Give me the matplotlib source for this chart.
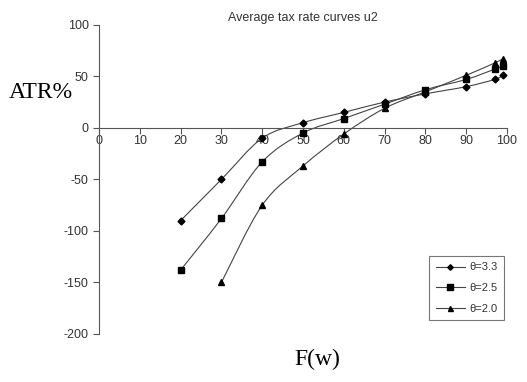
import matplotlib.pyplot as plt
import numpy as np
from matplotlib.path import Path
from matplotlib.patches import PathPatch
from matplotlib.lines import Line2D

# values
fw_33 = [20, 30, 40, 50, 60, 70, 80, 90, 97, 99]
atr_33 = [-90, -50, -10, 5, 15, 25, 33, 40, 47, 51]
fw_25 = [20, 30, 40, 50, 60, 70, 80, 90, 97, 99]
atr_25 = [-138, -88, -33, -5, 9, 23, 37, 47, 57, 60]
fw_20 = [30, 40, 50, 60, 70, 80, 90, 97, 99]
atr_20 = [-150, -75, -37, -6, 19, 35, 51, 63, 67]
labels = ['θ=3.3', 'θ=2.5', 'θ=2.0']
markers = ['D', 's', '^']
msizes = [3.5, 5, 4.5]

plt.rcParams['font.family'] = ['Liberation Sans', 'DejaVu Sans']
plt.rcParams['axes.unicode_minus'] = False


def smooth_path(x, y):
    # Excel style smoothed line: cubic bezier segments through the points
    p = np.column_stack([x, y]).astype(float)
    n = len(p)
    verts = [p[0]]
    codes = [Path.MOVETO]
    for i in range(n - 1):
        prev = p[i - 1] if i > 0 else p[i]
        nxt = p[i + 2] if i + 2 < n else p[i + 1]
        c1 = p[i] + (p[i + 1] - prev) / 6
        c2 = p[i + 1] - (nxt - p[i]) / 6
        verts += [c1, c2, p[i + 1]]
        codes += [Path.CURVE4] * 3
    return Path(verts, codes)


fig = plt.figure(figsize=(5.27, 3.82), dpi=100)
ax = fig.add_axes([0.188, 0.126, 0.774, 0.809])

handles = []
for xs, ys, lab, m, ms in zip([fw_33, fw_25, fw_20], [atr_33, atr_25, atr_20], labels, markers, msizes):
    ax.add_patch(PathPatch(smooth_path(xs, ys), facecolor='none', edgecolor='#444444', lw=0.8))
    ax.plot(xs, ys, linestyle='none', marker=m, markersize=ms, color='black')
    handles.append(Line2D([], [], color='#444444', lw=0.8, marker=m, markersize=ms * 0.8,
                          markerfacecolor='black', markeredgecolor='black', label=lab))

ax.set_xlim(0, 100)
ax.set_ylim(-200, 100)
ax.set_xticks(np.arange(0, 101, 10))
ax.set_yticks(np.arange(-200, 101, 50))
ax.spines['top'].set_visible(False)
ax.spines['right'].set_visible(False)
ax.spines['bottom'].set_position(('data', 0))
for s in ['left', 'bottom']:
    ax.spines[s].set_color('#555555')
    ax.spines[s].set_linewidth(0.8)
ax.tick_params(axis='both', labelsize=9, length=4, width=0.8, color='#555555', labelcolor='#333333')
ax.tick_params(axis='x', pad=1.5)

ax.set_title('Average tax rate curves u2', fontsize=9, color='#333333', pad=3, x=0.5)
fig.text(0.078, 0.757, 'ATR%', family='Liberation Serif', fontsize=17, ha='center', va='center')
fig.text(0.602, 0.058, 'F(w)', family='Liberation Serif', fontsize=17, ha='center', va='center')

leg = ax.legend(handles=handles, loc='lower right', bbox_to_anchor=(1.007, 0.026), fontsize=8,
                frameon=True, fancybox=False, edgecolor='#555555', handlelength=2.6,
                labelspacing=0.95, borderpad=0.6, handletextpad=0.4)
leg.get_frame().set_linewidth(0.8)
for t in leg.get_texts():
    t.set_color('#333333')

fig.savefig('out.png', dpi=100)
